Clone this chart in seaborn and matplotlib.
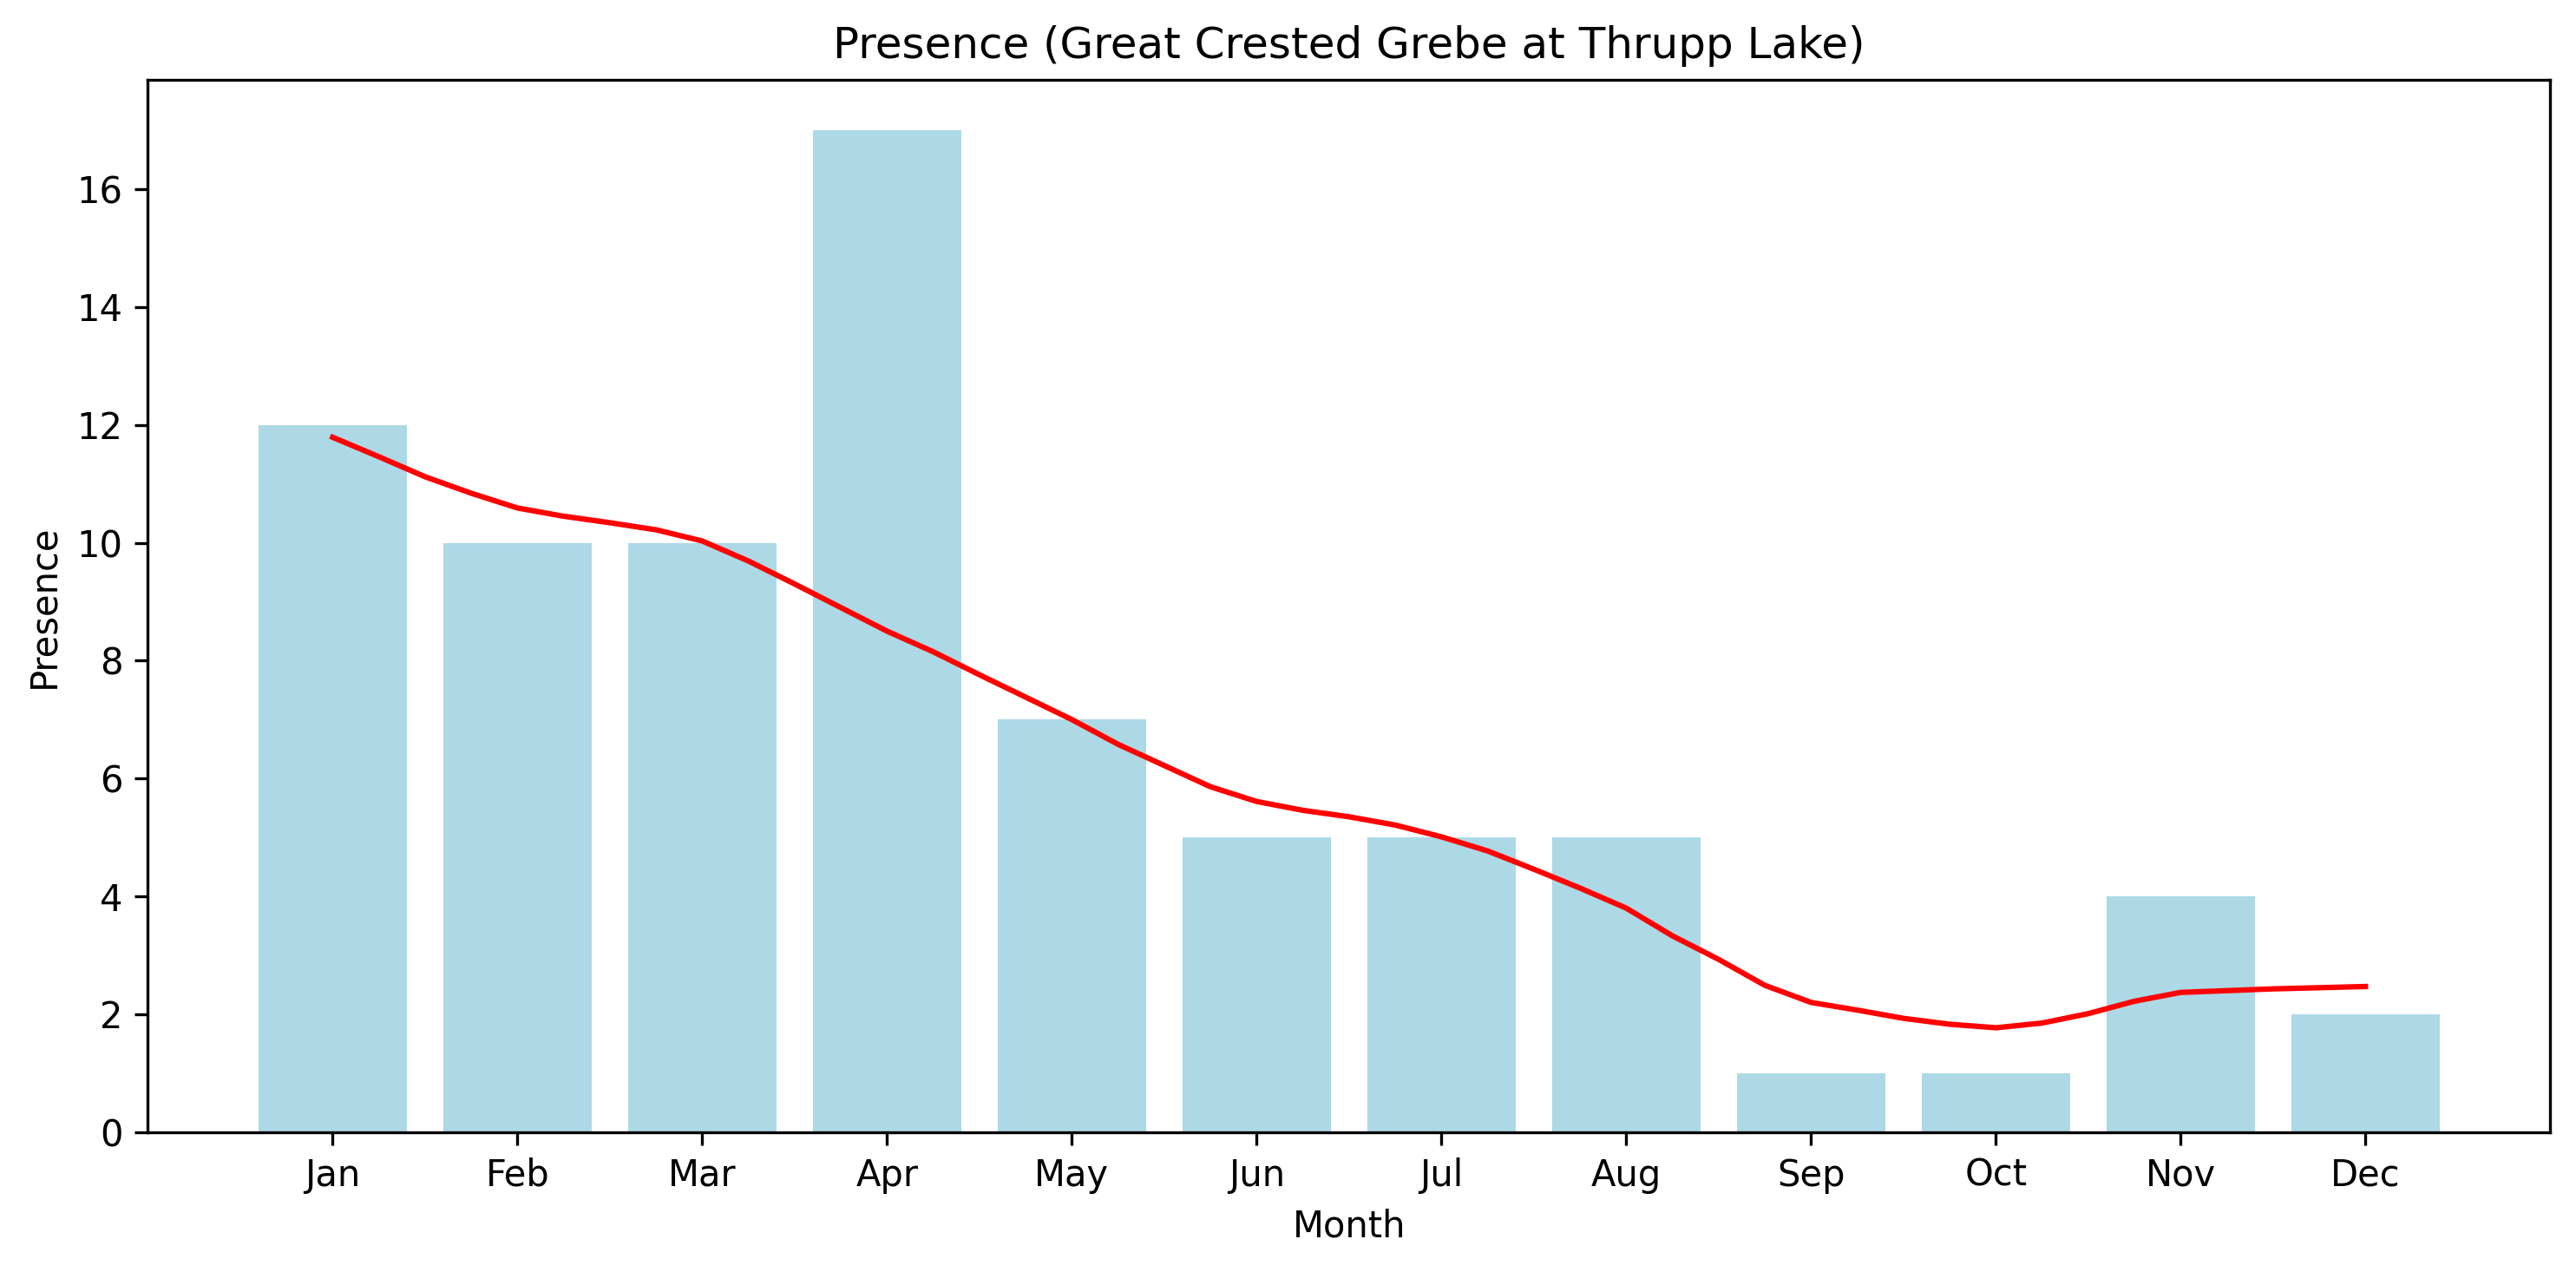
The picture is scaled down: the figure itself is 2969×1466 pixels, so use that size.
import matplotlib
matplotlib.use("Agg")
import matplotlib.pyplot as plt
import pandas as pd
import seaborn as sns

months = ["Jan", "Feb", "Mar", "Apr", "May", "Jun",
          "Jul", "Aug", "Sep", "Oct", "Nov", "Dec"]
presence = [12, 10, 10, 17, 7, 5, 5, 5, 1, 1, 4, 2]

# smoothed trend at every quarter month (Jan .. Dec)
trend_pos = [0, 0.25, 0.5, 0.75, 1, 1.25, 1.5, 1.75, 2, 2.25, 2.5, 2.75,
             3, 3.25, 3.5, 3.75, 4, 4.25, 4.5, 4.75, 5, 5.25, 5.5, 5.75,
             6, 6.25, 6.5, 6.75, 7, 7.25, 7.5, 7.75, 8, 8.25, 8.5, 8.75,
             9, 9.25, 9.5, 9.75, 10, 10.25, 10.5, 10.75, 11]
trend_val = [11.79, 11.46, 11.12, 10.84, 10.59, 10.45, 10.34, 10.22,
             10.03, 9.69, 9.30, 8.90, 8.50, 8.15, 7.76, 7.38,
             7.00, 6.58, 6.22, 5.86, 5.61, 5.46, 5.35, 5.21,
             5.01, 4.77, 4.46, 4.14, 3.80, 3.33, 2.93, 2.49,
             2.20, 2.07, 1.93, 1.83, 1.77, 1.85, 2.01, 2.22,
             2.37, 2.40, 2.43, 2.45, 2.47]

bars = pd.DataFrame({"Month": months, "Presence": presence})
trend = pd.DataFrame({"pos": trend_pos, "val": trend_val})

fig, ax = plt.subplots(figsize=(2969 / 300, 1466 / 300), dpi=300)
fig.subplots_adjust(left=0.0574, right=0.990, top=0.937, bottom=0.110)

sns.barplot(data=bars, x="Month", y="Presence", color="lightblue",
            saturation=1, width=0.8, ax=ax)
sns.lineplot(data=trend, x="pos", y="val", color="red", linewidth=1.5, ax=ax)

ax.set_xlim(-1, 12)
ax.set_xticks(range(len(months)))
ax.set_xticklabels(months)
ax.set_xlabel("Month")
ax.set_ylabel("Presence")
ax.set_title("Presence (Great Crested Grebe at Thrupp Lake)")

fig.savefig("out.png", dpi=300)
plt.close(fig)
